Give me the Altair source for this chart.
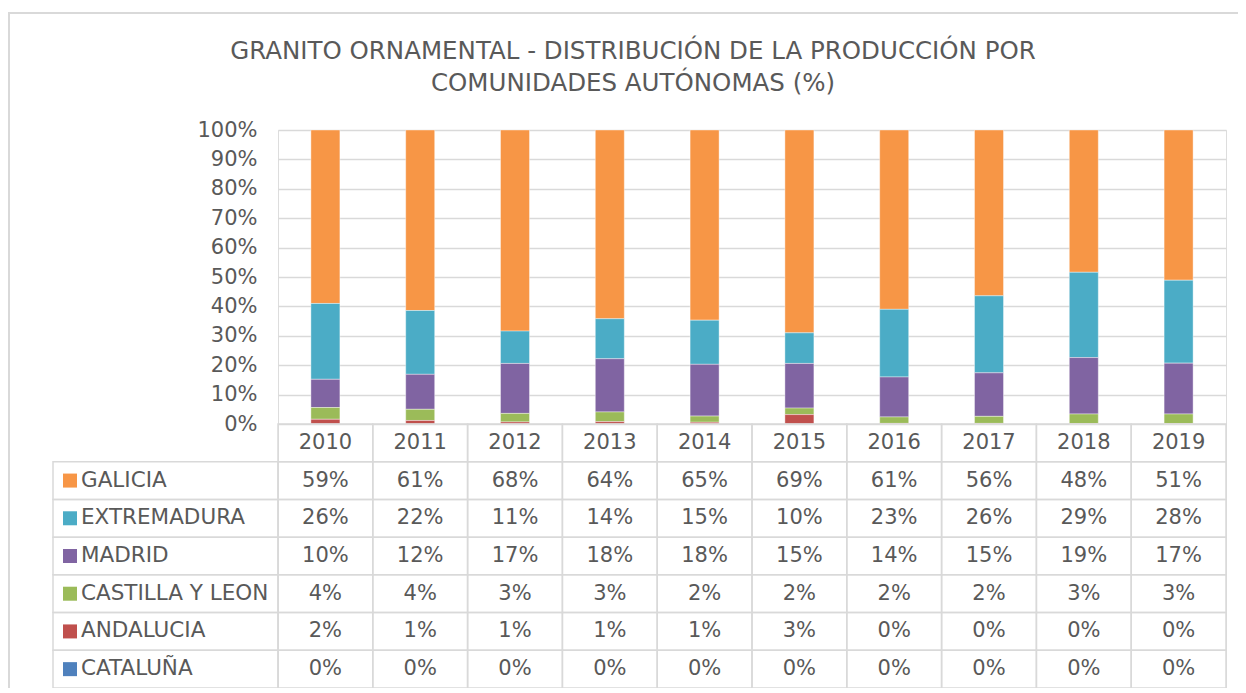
import altair as alt
import pandas as pd

years = ["2010", "2011", "2012", "2013", "2014", "2015", "2016", "2017", "2018", "2019"]
regions = ["GALICIA", "EXTREMADURA", "MADRID", "CASTILLA Y LEON", "ANDALUCIA", "CATALUÑA"]
colors = ["#F79646", "#4BACC6", "#8064A2", "#9BBB59", "#C0504D", "#4F81BD"]

galicia = [59.0, 61.4, 68.4, 64.2, 64.7, 69.0, 61.0, 56.4, 48.4, 51.1]
extremadura = [25.8, 21.7, 11.0, 13.6, 15.0, 10.4, 23.0, 26.2, 29.0, 28.2]
madrid = [9.6, 11.9, 17.0, 18.1, 17.6, 15.2, 13.6, 14.8, 19.2, 17.3]
castilla_leon = [4.0, 3.8, 2.9, 3.3, 2.1, 2.2, 2.2, 2.4, 3.3, 3.3]
andalucia = [1.6, 1.2, 0.7, 0.8, 0.6, 3.2, 0.2, 0.2, 0.1, 0.1]
cataluna = [0.0, 0.0, 0.0, 0.0, 0.0, 0.0, 0.0, 0.0, 0.0, 0.0]

series = [galicia, extremadura, madrid, castilla_leon, andalucia, cataluna]
title_lines = ["GRANITO ORNAMENTAL - DISTRIBUCIÓN DE LA PRODUCCIÓN POR",
               "COMUNIDADES AUTÓNOMAS (%)"]

rows = ["header"] + regions
FONT = "DejaVu Sans"
TXT = "#595959"
GRID = "#d9d9d9"

recs = []
for ri, (name, vals) in enumerate(zip(regions, series)):
    for y, v in zip(years, vals):
        recs.append({"year": y, "region": name, "value": v,
                     "stackidx": len(regions) - ri,
                     "label": f"{round(v):.0f}%"})
df = pd.DataFrame(recs)
hdr = pd.DataFrame({"year": years, "row": "header"})
cells = pd.DataFrame([{"year": y, "row": r} for r in rows for y in years])
lab = pd.DataFrame({"region": regions})

W, H = 948, 558
PLOT_H = 294

xenc = alt.X("year:N", sort=years, axis=None,
             scale=alt.Scale(paddingInner=0, paddingOuter=0))
color_scale = alt.Scale(domain=regions, range=colors)
row_scale = alt.Scale(domain=rows, range=[PLOT_H, H], paddingInner=0, paddingOuter=0)

frame = alt.Chart(pd.DataFrame({"a": [0]})).mark_rect(
    fillOpacity=0, stroke=GRID, strokeWidth=2
).encode(x=alt.value(-269), x2=alt.value(1000), y=alt.value(-117), y2=alt.value(600))

bars = alt.Chart(df).mark_bar(size=29, stroke="white", strokeWidth=0.4).encode(
    x=xenc,
    y=alt.Y("value:Q", stack="normalize",
            scale=alt.Scale(domain=[0, 1], range=[PLOT_H, 0], nice=False),
            axis=alt.Axis(format=".0%", values=[i / 10 for i in range(11)],
                          title=None, domain=False, ticks=False,
                          labelFontSize=21, labelColor=TXT, labelFont=FONT,
                          labelPadding=21, gridColor=GRID, gridWidth=1.5)),
    color=alt.Color("region:N", scale=color_scale, legend=None),
    order=alt.Order("stackidx:Q", sort="ascending"),
)

cell_rects = alt.Chart(cells).mark_rect(
    fillOpacity=0, stroke=GRID, strokeWidth=1.5
).encode(x=xenc, y=alt.Y("row:N", scale=row_scale, axis=None))

label_rects = alt.Chart(lab).mark_rect(
    fillOpacity=0, stroke=GRID, strokeWidth=1.5
).encode(x=alt.value(-225), x2=alt.value(0),
         y=alt.Y("region:N", scale=row_scale, axis=None))

squares = alt.Chart(lab).mark_square(size=196, opacity=1).encode(
    x=alt.value(-208),
    y=alt.Y("region:N", scale=row_scale, axis=None),
    color=alt.Color("region:N", scale=color_scale, legend=None),
)

label_text = alt.Chart(lab).mark_text(
    align="left", baseline="middle", fontSize=21.5, font=FONT, color=TXT
).encode(x=alt.value(-197), y=alt.Y("region:N", scale=row_scale, axis=None),
         text="region:N")

header_text = alt.Chart(hdr).mark_text(
    align="center", baseline="middle", fontSize=21, font=FONT, color=TXT
).encode(x=xenc, y=alt.Y("row:N", scale=row_scale, axis=None), text="year:N")

value_text = alt.Chart(df).mark_text(
    align="center", baseline="middle", fontSize=21, font=FONT, color=TXT
).encode(x=xenc, y=alt.Y("region:N", scale=row_scale, axis=None), text="label:N")

chart = alt.layer(
    frame, bars, cell_rects, label_rects, squares, label_text, header_text, value_text
).resolve_scale(y="independent").properties(
    width=W, height=H,
    autosize=alt.AutoSizeParams(type="none"),
    padding={"left": 270, "top": 122, "right": 12, "bottom": 0},
    title=alt.TitleParams(text=title_lines, fontSize=24.5, font=FONT, color=TXT,
                          fontWeight="normal", lineHeight=32, anchor="middle",
                          frame="group", dx=-119, offset=0, dy=84),
).configure_view(stroke=None).configure(background="white")

chart.save("out.html", embed_options={"renderer": "svg", "actions": False})
